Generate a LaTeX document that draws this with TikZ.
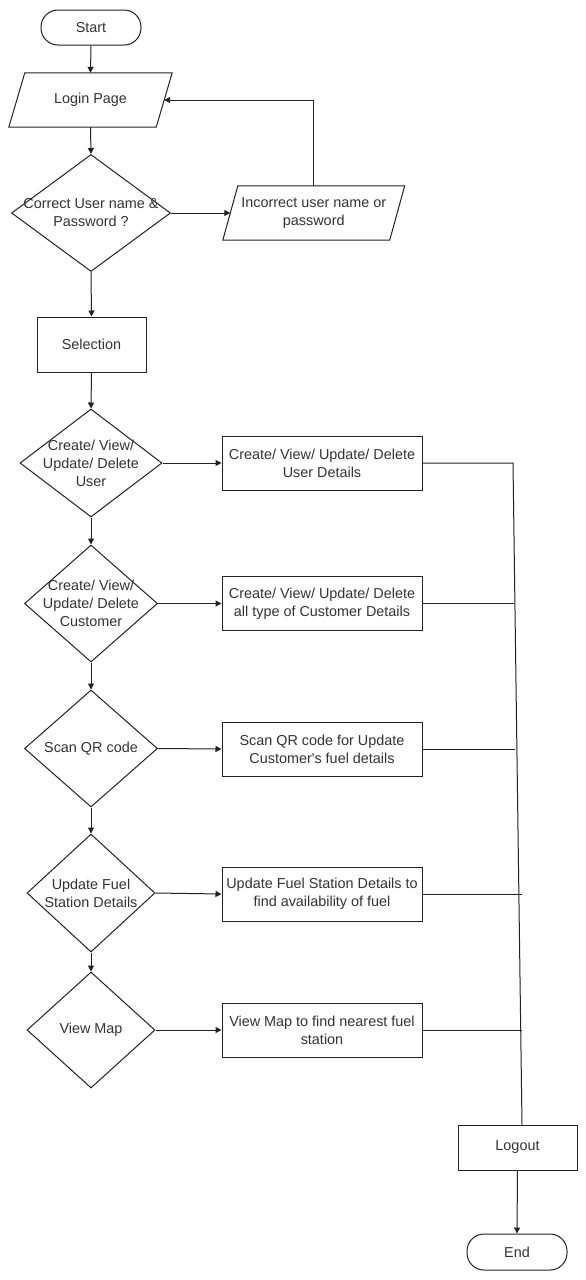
\documentclass[tikz,border=0pt]{standalone}
\usepackage{fontspec}
\setmainfont{Liberation Sans}
\usetikzlibrary{shapes.geometric,arrows.meta,calc}
\definecolor{ln}{HTML}{222222}
\definecolor{tx}{HTML}{333333}
\tikzset{
  base/.style={font=\fontsize{14.4}{18}\selectfont, text=tx, align=center, inner sep=0pt},
  term/.style={base, draw=ln, line width=1pt, rectangle, rounded corners=17pt, minimum width=100pt, minimum height=35pt},
  proc/.style={base, draw=ln, line width=1pt, rectangle, minimum width=200pt, minimum height=54pt},
  dec/.style={draw=ln, line width=1pt, shape=diamond, inner sep=0pt},
  io/.style={base, minimum height=54pt},
  conn/.style={draw=ln, line width=1pt},
  arr/.style={conn, -{Triangle[length=6pt,width=6pt]}},
}
\begin{document}
\begin{tikzpicture}[x=1pt,y=-1pt]
\fill[white] (0,0) rectangle (586,1280);
\useasboundingbox (0,0) rectangle (586,1280);

% nodes
\node[term] (start) at (91,27.5) {Start};

\node[io, minimum width=147pt] (login) at (90.5,100) {Login Page};
\draw[conn] ($(login.north west)+(8,0)$) -- ($(login.north east)+(8,0)$) -- ($(login.south east)+(-8,0)$) -- ($(login.south west)+(-8,0)$) -- cycle;

\node[dec, minimum width=159pt, minimum height=117pt] (d1) at (91,213) {};
\node[base] (d1t) at (d1) {Correct User name \&\\Password ?};

\node[io, minimum width=166.5pt] (inc) at (313.75,213) {Incorrect user name or\\password};
\draw[conn] ($(inc.north west)+(7.5,0)$) -- ($(inc.north east)+(7.5,0)$) -- ($(inc.south east)+(-7.5,0)$) -- ($(inc.south west)+(-7.5,0)$) -- cycle;

\node[proc, minimum width=109pt, minimum height=55pt] (sel) at (91.5,344.5) {Selection};

\node[dec, minimum width=142pt, minimum height=108pt] (dU) at (91,463) {};
\node[base] (dUt) at (dU) {Create/ View/\\Update/ Delete\\User};
\node[proc] (bU) at (322,463) {Create/ View/ Update/ Delete\\User Details};

\node[dec, minimum width=133pt, minimum height=117pt] (dC) at (91,603.5) {};
\node[base] (dCt) at (dC) {Create/ View/\\Update/ Delete\\Customer};
\node[proc] (bC) at (322,603.5) {Create/ View/ Update/ Delete\\all type of Customer Details};

\node[dec, minimum width=133pt, minimum height=117pt] (dQ) at (91,748.5) {};
\node[base] (dQt) at (dQ) {Scan QR code};
\node[proc] (bQ) at (322,749) {Scan QR code for Update\\Customer\textquotesingle s fuel details};

\node[dec, minimum width=128pt, minimum height=118pt] (dF) at (91,893) {};
\node[base] (dFt) at (dF) {Update Fuel\\Station Details};
\node[proc] (bF) at (322,894) {Update Fuel Station Details to\\find availability of fuel};

\node[dec, minimum width=128pt, minimum height=116pt] (dM) at (91,1030) {};
\node[base] (dMt) at (dM) {View Map};
\node[proc] (bM) at (322,1030) {View Map to find nearest fuel\\station};

\node[proc, minimum width=119pt, minimum height=45pt] (logout) at (517.5,1147.5) {Logout};
\node[term, minimum height=36pt] (end) at (517,1252) {End};

% junction coordinates on the collector line
\coordinate (jt) at (513,463);
\coordinate (jb) at ($(logout.north)+(4.5,0)$);
\coordinate (jc) at (514,603.5);
\coordinate (jq) at (515,749);
\coordinate (jf) at (522,894);
\coordinate (jm) at (522,1030);

% connectors
\draw[arr] (start.south) -- (login.north);
\draw[arr] (login.south) -- (d1.north);
\draw[arr] (d1.east) -- (inc.west);
\draw[arr] (inc.north) |- (login.east);
\draw[arr] (d1.south) -- (sel.north);
\draw[arr] (sel.south) -- (dU.north);
\draw[arr] (dU.south) -- (dC.north);
\draw[arr] (dC.south) -- (dQ.north);
\draw[arr] (dQ.south) -- (dF.north);
\draw[arr] (dF.south) -- (dM.north);

\draw[arr] (dU.east) -- (bU.west);
\draw[arr] (dC.east) -- (bC.west);
\draw[arr] (dQ.east) -- (bQ.west);
\draw[arr] (dF.east) -- (bF.west);
\draw[arr] (dM.east) -- (bM.west);

\draw[conn] (bU.east) -- (jt) -- (jb);
\draw[conn] (bC.east) -- (jc);
\draw[conn] (bQ.east) -- (jq);
\draw[conn] (bF.east) -- (jf);
\draw[conn] (bM.east) -- (jm);

\draw[arr] (logout.south) -- (end.north);
\end{tikzpicture}
\end{document}
